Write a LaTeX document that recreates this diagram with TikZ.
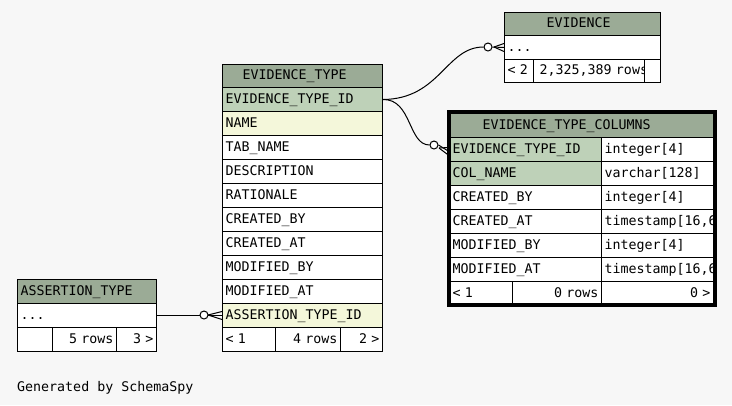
\documentclass[tikz,border=0pt]{standalone}
\usepackage{fontspec}
\setmonofont{DejaVu Sans Mono}
\usepackage{tikz}

\definecolor{headgreen}{HTML}{9BAB96}
\definecolor{keygreen}{HTML}{BED1B8}
\definecolor{idxyellow}{HTML}{F4F7DA}
\definecolor{pagegray}{HTML}{F7F7F7}

\tikzset{
  cell/.style={draw, line width=1pt, fill=white, anchor=north west,
    inner xsep=3pt, inner ysep=0pt, minimum height=24pt,
    text height=9.5pt, text depth=2.5pt, align=left,
    font=\ttfamily\fontsize{13.3}{15}\selectfont},
  headcell/.style={cell, fill=headgreen, minimum height=23pt},
  rcell/.style={cell, align=right},
  optcircle/.style={circle, draw, line width=1pt, fill=white, inner sep=0pt, minimum size=8pt}
}

\begin{document}
\begin{tikzpicture}[x=1pt,y=-1pt]
  % Page
  \path[fill=pagegray, use as bounding box] (0,0) rectangle (732,405);

  % EVIDENCE
  \node[headcell, text width=150pt] (ev head) at (504,12) {\hspace*{39pt}EVIDENCE};
  \node[cell, text width=150pt] (ev dots) at (504,35) {...};
  \node[cell, text width=23pt, minimum height=23pt] (ev prev) at (504,59) {< 2};
  \begin{scope}
    \clip (532,58) rectangle (644.5,83);
    \node[cell, text width=200pt, minimum height=23pt] (ev rows) at (533,59) {\hspace*{3pt}2,325,389 rows};
  \end{scope}
  \node[cell, text width=10pt, minimum height=23pt] (ev next) at (644,59) {};
  \draw[line width=1pt] (ev rows.north west) -- (ev next.north west);

  % EVIDENCE_TYPE
  \node[headcell, text width=154pt] (et head) at (222,64) {\hspace*{17pt}EVIDENCE\_TYPE};
  \foreach \colname/\colfill [count=\i from 0] in {EVIDENCE\_TYPE\_ID/keygreen, NAME/idxyellow,
      TAB\_NAME/white, DESCRIPTION/white, RATIONALE/white, CREATED\_BY/white, CREATED\_AT/white,
      MODIFIED\_BY/white, MODIFIED\_AT/white, ASSERTION\_TYPE\_ID/idxyellow}
    \node[cell, fill=\colfill, text width=154pt] (et row\i) at (222,{87+24*\i}) {\colname};
  \node[cell, text width=47pt] (et prev) at (222,327) {< 1};
  \node[rcell, text width=59pt] (et rows) at (275,327) {4 rows};
  \node[rcell, text width=36pt] (et next) at (340,327) {2 >};

  % EVIDENCE_TYPE_COLUMNS
  \node[headcell, text width=258pt, minimum height=24pt] (etc head) at (449,113) {\hspace*{30pt}EVIDENCE\_TYPE\_COLUMNS};
  \foreach \colname/\colfill [count=\i from 0] in {EVIDENCE\_TYPE\_ID/keygreen, COL\_NAME/keygreen,
      CREATED\_BY/white, CREATED\_AT/white, MODIFIED\_BY/white, MODIFIED\_AT/white}
    \node[cell, fill=\colfill, text width=146pt] (etc row\i) at (449,{137+24*\i}) {\colname};
  \begin{scope}
    \clip (600,136) rectangle (714,282);
    \foreach \coltype [count=\i from 0] in {integer[4], varchar[128], integer[4],
        {timestamp[16,6]}, integer[4], {timestamp[16,6]}}
      \node[cell, text width=140pt] (etc type\i) at (601,{137+24*\i}) {\coltype};
  \end{scope}
  \node[cell, text width=57pt] (etc prev) at (449,281) {< 1};
  \node[rcell, text width=83pt] (etc rows) at (512,281) {0 rows};
  \node[rcell, text width=106pt] (etc next) at (601,281) {0 >};
  \draw[line width=4pt] (448.5,112) rectangle (714.5,305); % selected table

  % ASSERTION_TYPE
  \node[headcell, text width=133pt, minimum height=24pt] (as head) at (17,279) {ASSERTION\_TYPE};
  \node[cell, text width=133pt] (as dots) at (17,303) {...};
  \node[cell, text width=29pt] (as prev) at (17,327) {};
  \node[rcell, text width=58pt] (as rows) at (52,327) {5 rows};
  \node[rcell, text width=34pt] (as next) at (116,327) {3 >};

  % Relationships
  \node[optcircle] (ev end) at (488,47) {};
  \coordinate (ev foot) at (494,47);
  \draw[line width=1pt] (et row0.east) .. controls (440,99) and (446,47) .. (ev end.west);
  \draw[line width=1pt] (ev end.east) -- (ev dots.west);
  \draw[line width=1pt] (ev foot) -- ([yshift=4pt]ev dots.west);
  \draw[line width=1pt] (ev foot) -- ([yshift=-4pt]ev dots.west);

  \node[optcircle] (etc end) at (434,145) {};
  \coordinate (etc foot) at (439,148);
  \draw[line width=1pt] (et row0.east) .. controls (412,99) and (408,145) .. (etc end.west);
  \draw[line width=1pt] (etc end.east) -- ([yshift=-2pt]etc row0.west);
  \draw[line width=1pt] (etc foot) -- ([yshift=2pt]etc row0.west);
  \draw[line width=1pt] (etc foot) -- ([yshift=-6pt]etc row0.west);

  \coordinate (as foot) at (208,315);
  \draw[line width=1pt] (as dots.east) -- (et row9.west);
  \draw[line width=1pt] (as foot) -- ([yshift=4pt]et row9.west);
  \draw[line width=1pt] (as foot) -- ([yshift=-4pt]et row9.west);
  \node[optcircle] (as end) at (204,315) {};

  % Footer text
  \node[anchor=base west, inner sep=0pt, font=\ttfamily\fontsize{13.3}{15}\selectfont] (generated) at (17,391) {Generated by SchemaSpy};
\end{tikzpicture}
\end{document}
